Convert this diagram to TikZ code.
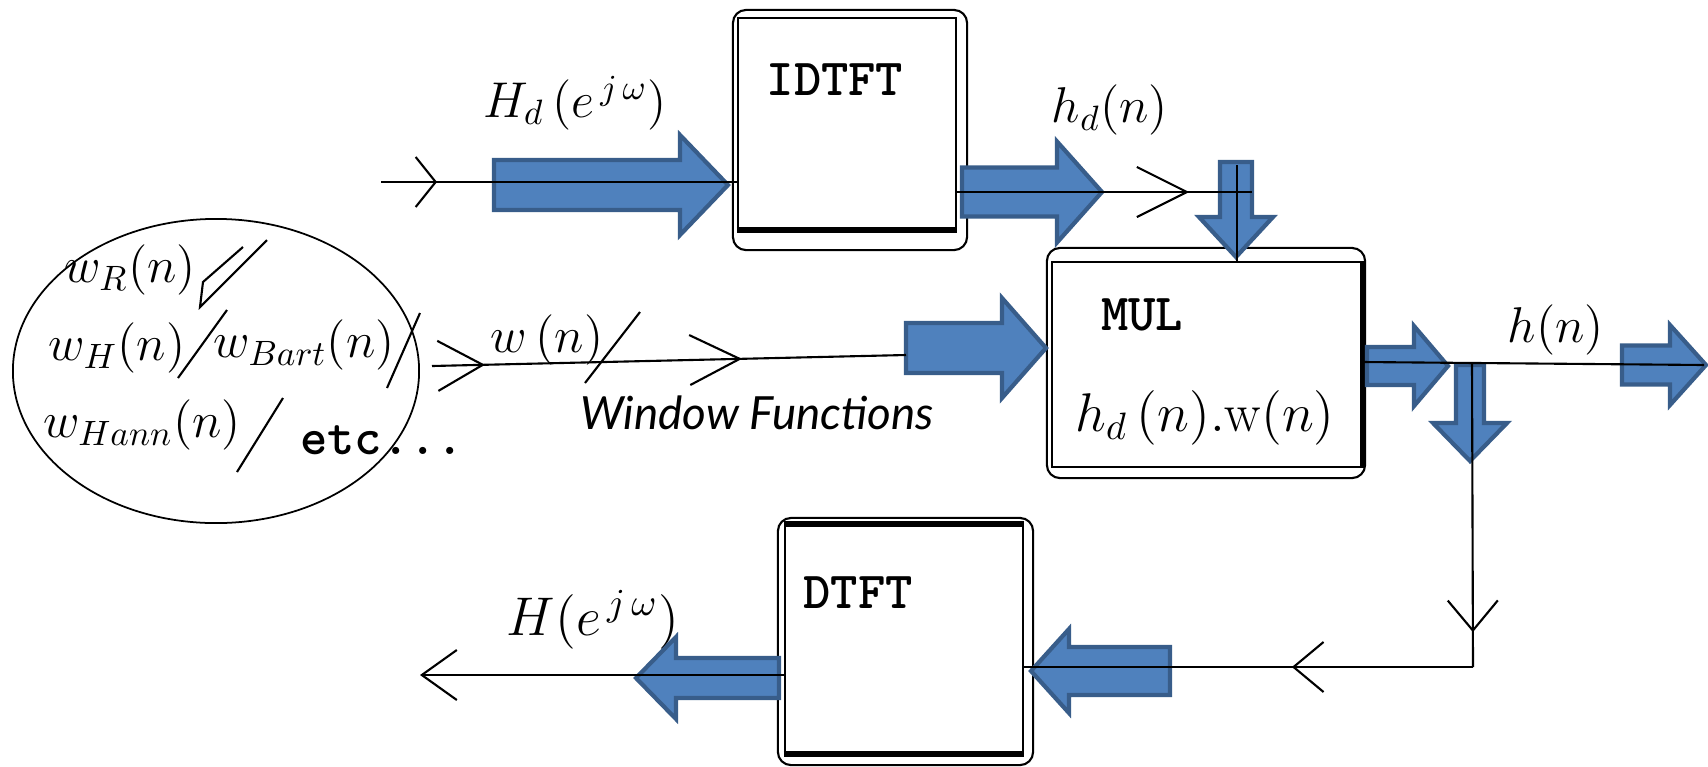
\RequirePackage{fix-cm}
\documentclass[tikz,border=0pt]{standalone}
\usepackage{fontspec}
\newfontfamily\winfont{Lato}
\usetikzlibrary{positioning,shapes.geometric,arrows.meta,decorations.markings}

\definecolor{arrowface}{RGB}{79,129,189}
\definecolor{arrowedge}{RGB}{56,93,138}

% block arrow: tail point, direction, length, half shaft, half head, head length
\newcommand{\fatarrow}[6]{%
	\begin{scope}[shift={#1},rotate=#2]
		\draw[fatblue] (0,-#4) -- ({#3-#6},-#4) -- ({#3-#6},-#5) -- (#3,0)
			-- ({#3-#6},#5) -- ({#3-#6},#4) -- (0,#4) -- cycle;
	\end{scope}}

\begin{document}
\begin{tikzpicture}[x=0.01cm, y=-0.01cm,
	every node/.style={inner sep=0pt},
	box/.style={draw, line width=0.6pt},
	frame/.style={draw, line width=0.6pt, rounded corners=0.13cm},
	fatblue/.style={fill=arrowface, draw=arrowedge, line width=1.2pt, line join=miter},
	sig/.style={line width=0.6pt},
	tick/.style 2 args={postaction={decorate, decoration={markings,
		mark=at position #1 with {\arrow[line width=0.6pt]{Straight Barb[length=#2, width=5mm]}}}}},
	blocktext/.style={font=\fontsize{14.8}{16}\selectfont\ttfamily\bfseries},
	mlabel/.style={font=\fontsize{14.3}{16}\selectfont},
]
	\useasboundingbox (0,0) rectangle (1708,766);

	% blocks
	\node[frame, minimum width=2.34cm, minimum height=2.40cm] (idtftframe) at (850,130) {};
	\node[box, minimum width=2.18cm, minimum height=2.11cm] (idtft) at (847,123.5) {};
	\node[frame, minimum width=3.18cm, minimum height=2.30cm] (mulframe) at (1206,363) {};
	\node[box, minimum width=3.09cm, minimum height=2.05cm] (mul) at (1206.5,364.5) {};
	\node[frame, minimum width=2.55cm, minimum height=2.47cm] (dtftframe) at (905.5,641.5) {};
	\node[box, minimum width=2.38cm, minimum height=2.28cm] (dtft) at (904,639) {};
	\draw[line width=1.5pt] (idtft.south west) -- (idtft.south east);
	\draw[line width=1.5pt] (mul.north east) -- (mul.south east);
	\draw[line width=1.5pt] (dtft.north west) -- (dtft.north east);
	\draw[line width=1.5pt] (dtft.south west) -- (dtft.south east);

	\node[blocktext] (idtfttext) at (835,80) {IDTFT};
	\node[blocktext] (multext) at (1142,315) {MUL};
	\node[blocktext] (dtfttext) at (858,593) {DTFT};
	\node[font=\fontsize{15.5}{17}\selectfont] (product) at (1205,418) {$h_d\,(n).\mathrm{w}(n)$};

	% window functions
	\node[draw, ellipse, line width=0.5pt, minimum width=4.06cm, minimum height=3.04cm] (windows) at (216,371) {};
	\node[mlabel] (wr) at (130,270) {$w_R(n)$};
	\node[mlabel] (wh) at (117,348) {$w_H(n)$};
	\node[mlabel] (wbart) at (304,345) {$w_{Bart}(n)$};
	\node[mlabel] (whann) at (142,425) {$w_{Hann}(n)$};
	\node[blocktext] (etc) at (382,440) {etc...};
	\draw[sig] (243,247) -- (203,282) -- (200,307) -- (267,240);
	\draw[sig] (178,378) -- (227,310);
	\draw[sig] (387,388) -- (420,313);
	\draw[sig] (237,472) -- (283,398);

	% signal labels
	\node[mlabel] (hdw) at (575,103) {$H_d\,(e^{\,j\,\omega})$};
	\node[mlabel] (hdn) at (1110,110) {$h_d(n)$};
	\node[mlabel] (wn) at (547,340) {$w\,(n)$};
	\node[font={\fontsize{13}{15}\winfont\itshape}] (wintext) at (757,413) {Window Functions};
	\node[mlabel] (hn) at (1556,330) {$h(n)$};
	\node[font=\fontsize{15.5}{17}\selectfont] (hw) at (593,620) {$H(e^{\,j\,\omega})$};

	% block arrows
	\fatarrow{(494,185)}{0}{234}{25}{50}{48}
	\fatarrow{(962,192)}{0}{140}{24.5}{50.5}{45}
	\fatarrow{(1236,162)}{270}{95}{16}{37}{40}
	\fatarrow{(906,348)}{0}{140}{25}{50}{44}
	\fatarrow{(1367,366)}{0}{81}{19}{40}{34}
	\fatarrow{(1470,365)}{270}{96}{14}{37}{38}
	\fatarrow{(1622,365)}{0}{84}{19.5}{40}{36}
	\fatarrow{(1170,671)}{180}{139}{24}{42}{38}
	\fatarrow{(779,678)}{180}{143}{20}{41}{40}

	% signal lines
	\coordinate (hdsrc) at (381,182);
	\coordinate (hdj) at (1252,192);
	\coordinate (hdtop) at (1237,165);
	\coordinate (wsrc) at (432,366);
	\coordinate (wend) at (906,355);
	\coordinate (hj) at (1472,362);
	\coordinate (hend) at (1704,365);
	\coordinate (hcorner) at (1473,667);
	\coordinate (hwend) at (420,675);

	\draw[sig, tick={0.56cm}{2mm}] (hdsrc) -- (hdsrc -| idtft.west);
	\draw[sig, tick={2.32cm}{5mm}] (hdj -| idtft.east) -- (hdj);
	\draw[sig] (hdtop) -- (hdtop |- mul.north);
	\draw[sig, tick={0.53cm}{4.5mm}, tick={3.10cm}{5mm}] (wsrc) -- (wend);
	\draw[sig] (585,383) -- (640,312);
	\draw[sig] (hj -| mul.east) -- (hend);
	\draw[sig, tick={2.70cm}{3mm}] (hj) -- (hcorner);
	\draw[sig, tick={1.81cm}{3mm}] (hcorner) -- (hcorner -| dtft.east);
	\draw[sig, -{Straight Barb[length=3.5mm, width=5mm]}] (hwend -| dtft.west) -- (hwend);
\end{tikzpicture}
\end{document}
